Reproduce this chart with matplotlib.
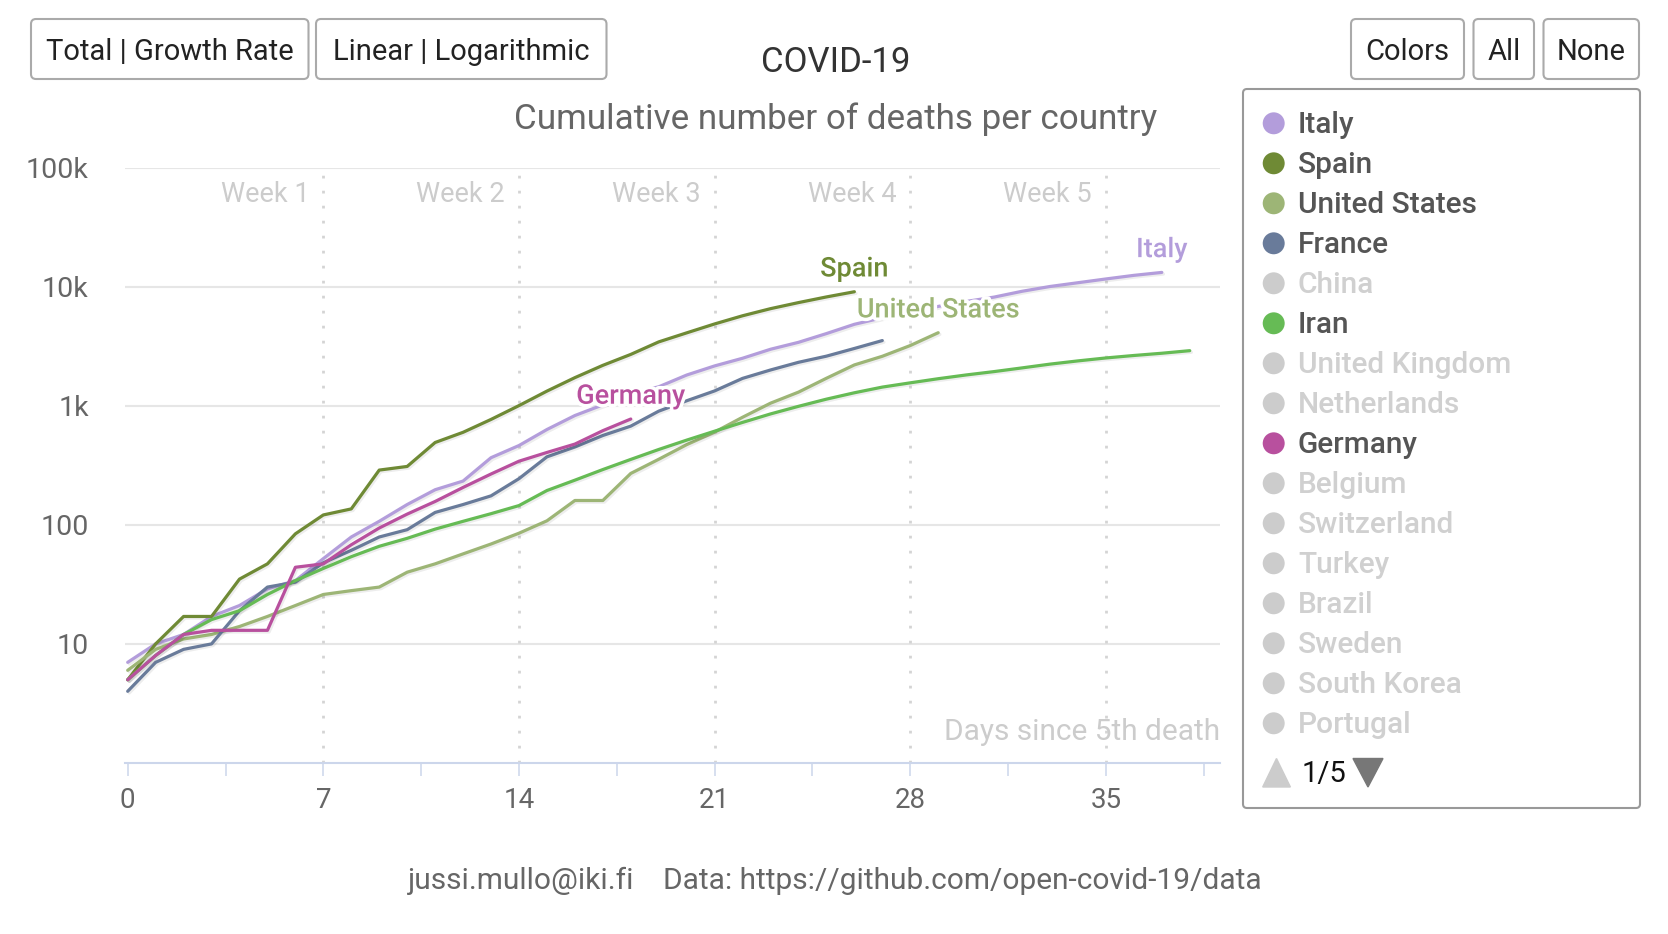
import matplotlib.pyplot as plt
import matplotlib.patheffects as pe
from matplotlib.patches import FancyBboxPatch, Polygon
import numpy as np

plt.rcParams['font.family'] = ['Roboto', 'DejaVu Sans']

# cumulative deaths, one value per day since 5th death
italy = [7, 10, 12, 17, 21, 29, 34, 52, 79, 107, 148, 197, 233, 366, 463, 631, 827, 1016, 1266,
         1441, 1809, 2158, 2503, 2978, 3405, 4032, 4825, 5476, 6077, 6820, 7503, 8165, 9134,
         10023, 10779, 11591, 12428, 13155]
spain = [5, 10, 17, 17, 35, 47, 84, 121, 136, 288, 309, 491, 598, 767, 1002, 1326, 1720, 2182,
         2696, 3434, 4089, 4858, 5690, 6528, 7340, 8189, 9053]
usa = [6, 9, 11, 12, 14, 17, 21, 26, 28, 30, 40, 47, 57, 69, 85, 108, 160, 160, 270, 355, 471,
       600, 800, 1050, 1300, 1700, 2200, 2600, 3200, 4100]
france = [4, 7, 9, 10, 19, 30, 33, 48, 61, 79, 91, 127, 148, 175, 244, 372, 450, 562, 674, 900,
          1100, 1331, 1696, 1995, 2314, 2606, 3024, 3523]
iran = [5, 8, 12, 16, 19, 26, 34, 43, 54, 66, 77, 92, 107, 124, 145, 194, 237, 291, 354, 429,
        514, 611, 724, 853, 988, 1135, 1284, 1433, 1556, 1685, 1812, 1934, 2077, 2234, 2378,
        2517, 2640, 2757, 2898]
germany = [5, 8, 12, 13, 13, 13, 44, 47, 68, 94, 123, 157, 206, 267, 342, 405, 476, 617, 773]

countries = ['Italy', 'Spain', 'United States', 'France', 'Iran', 'Germany']
series = [italy, spain, usa, france, iran, germany]
colors = ['#b39ddb', '#6f8a35', '#9db576', '#697b9a', '#66bb55', '#b8509e']
labelled = ['Italy', 'Spain', 'United States', 'Germany']

legend_names = ['Italy', 'Spain', 'United States', 'France', 'China', 'Iran', 'United Kingdom',
                'Netherlands', 'Germany', 'Belgium', 'Switzerland', 'Turkey', 'Brazil', 'Sweden',
                'South Korea', 'Portugal']

week_labels = ['Week 1', 'Week 2', 'Week 3', 'Week 4', 'Week 5']
x_ticks = [0, 7, 14, 21, 28, 35]
y_ticks = [10, 100, 1000, 10000, 100000]
y_tick_labels = ['10', '100', '1k', '10k', '100k']

W, H = 1668, 934
fig = plt.figure(figsize=(W / 100, H / 100), dpi=100)

# main plot area (pixel box converted to figure fractions)
px_left, px_right, px_top, px_bottom = 124.9, 1220.5, 167.5, 763
ax = fig.add_axes([px_left / W, 1 - px_bottom / H, (px_right - px_left) / W, (px_bottom - px_top) / H])
ax.set_yscale('log')
ax.set_xlim(-0.1, 39.1)
ax.set_ylim(1, 100000)

for name, vals, col in zip(countries, series, colors):
    days = np.arange(len(vals))
    ax.plot(days, vals, color=col, lw=2.3, solid_joinstyle='round', solid_capstyle='round', zorder=3,
            path_effects=[pe.SimpleLineShadow(offset=(1.2, -1.2), shadow_color='black', alpha=0.07),
                          pe.Normal()])

for name, vals, col in zip(countries, series, colors):
    if name in labelled:
        ax.annotate(name, xy=(len(vals) - 1, vals[-1]), xytext=(0, 11), textcoords='offset points',
                    ha='center', va='baseline', color=col, fontsize=19.5, fontweight='medium', zorder=5,
                    path_effects=[pe.withStroke(linewidth=5, foreground='white')])

# weeks
for i, lab in enumerate(week_labels):
    wd = 7 * (i + 1)
    ax.axvline(wd, color='#d4d4d4', lw=2, ls=(0, (1, 4.4)), zorder=1)
    ax.text(wd - 0.5, 0.955, lab, transform=ax.get_xaxis_transform(), ha='right', va='center',
            color='#cccccc', fontsize=19.5)

ax.text(1.0, 0.052, 'Days since 5th death', transform=ax.transAxes, ha='right', va='center',
        color='#cccccc', fontsize=21.5)

ax.set_yticks(y_ticks)
ax.set_yticklabels(y_tick_labels)
ax.yaxis.set_minor_locator(plt.NullLocator())
ax.yaxis.grid(True, color='#e6e6e6', lw=1.5, zorder=0)
ax.tick_params(axis='y', length=0, pad=26, labelsize=20.5, labelcolor='#666666')

ax.set_xticks(x_ticks)
ax.set_xticks(np.arange(3.5, 39, 7), minor=True)
ax.tick_params(axis='x', which='both', direction='out', length=9, width=1.1, color='#ccd6eb',
               pad=8, labelsize=20, labelcolor='#666666')

for s in ['left', 'right', 'top']:
    ax.spines[s].set_visible(False)
ax.spines['bottom'].set_color('#ccd6eb')
ax.spines['bottom'].set_linewidth(1.5)
ax.set_axisbelow(True)

# overlay in pixel coordinates for titles, buttons and legend
ov = fig.add_axes([0, 0, 1, 1])
ov.set_xlim(0, W)
ov.set_ylim(H, 0)
ov.axis('off')

ov.text(836, 63, 'COVID-19', ha='center', va='center', fontsize=25, color='#333333')
ov.text(836, 119, 'Cumulative number of deaths per country', ha='center', va='center',
        fontsize=25.2, color='#666666')

buttons = [('Total | Growth Rate', 31, 308.5), ('Linear | Logarithmic', 316, 606.5),
           ('Colors', 1351, 1464), ('All', 1473.5, 1534), ('None', 1543.5, 1639)]
for txt, x0, x1 in buttons:
    ov.add_patch(FancyBboxPatch((x0, 19), x1 - x0, 60, boxstyle='round,pad=0,rounding_size=5',
                                fc='white', ec='#aaaaaa', lw=1.5))
    ov.text((x0 + x1) / 2, 52, txt, ha='center', va='center', fontsize=21, color='#222222')

# legend
ov.add_patch(FancyBboxPatch((1243, 89), 397, 719, boxstyle='round,pad=0,rounding_size=4',
                            fc='white', ec='#999999', lw=1.5))
for i, name in enumerate(legend_names):
    yy = 123.3 + 40 * i
    if name in countries:
        dot = colors[countries.index(name)]
        tcol = '#555555'
    else:
        dot = '#cccccc'
        tcol = '#d0d0d0'
    ov.scatter([1273.7], [yy], s=250, color=dot, edgecolors='none')
    ov.text(1298, yy + 2, name, ha='left', va='center', fontsize=21.5, fontweight='medium', color=tcol)

ov.add_patch(Polygon([[1262.7, 787], [1290.4, 787], [1276.5, 758.5]], closed=True, color='#cccccc'))
ov.add_patch(Polygon([[1353, 758.5], [1383, 758.5], [1368, 787]], closed=True, color='#777777'))
ov.text(1301.5, 774, '1/5', ha='left', va='center', fontsize=21, color='#111111')

fig.text(835.6 / W, 1 - 881 / H, 'jussi.mullo@iki.fi    Data: https://github.com/open-covid-19/data',
         ha='center', va='center', fontsize=21.5, color='#666666')

fig.savefig('out.png', dpi=100)
